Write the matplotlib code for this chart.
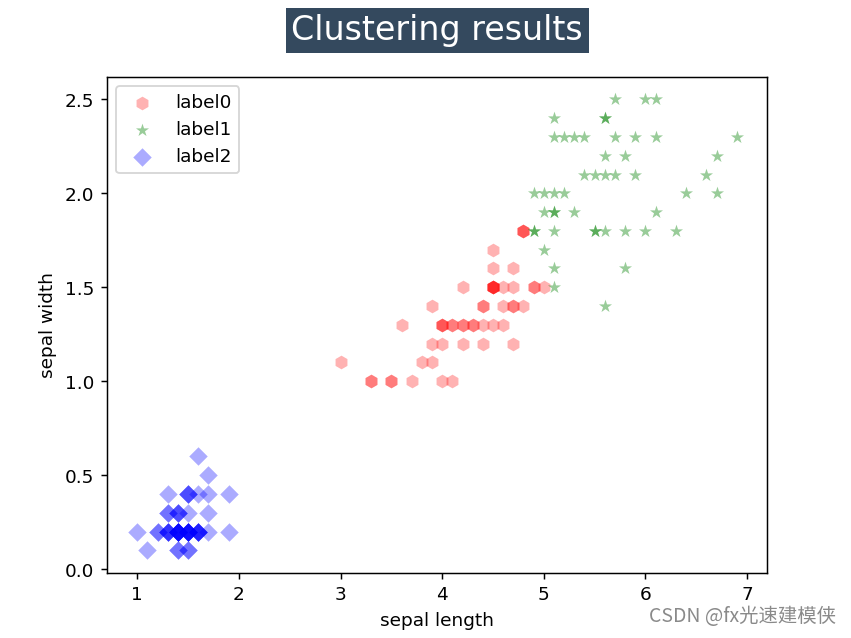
import matplotlib.pyplot as plt
import numpy as np

plt.rcParams['font.family'] = ['DejaVu Sans', 'Noto Sans CJK SC']

# cluster 0 (red hexagons): petal length / width
x0 = [4.7, 4.5, 4.9, 4.0, 4.6, 4.5, 4.7, 3.3, 4.6, 3.9,
      3.5, 4.2, 4.0, 4.7, 3.6, 4.4, 4.5, 4.1, 4.5, 3.9,
      4.8, 4.0, 4.9, 4.7, 4.3, 4.4, 4.8, 4.5, 3.5,
      3.8, 3.7, 3.9, 4.5, 4.5, 4.7, 4.4, 4.1, 4.0,
      4.4, 4.6, 4.0, 3.3, 4.2, 4.2, 4.2, 4.3, 3.0, 4.1,
      4.5, 4.8, 4.8, 5.0]
y0 = [1.4, 1.5, 1.5, 1.3, 1.5, 1.3, 1.6, 1.0, 1.3, 1.4,
      1.0, 1.5, 1.0, 1.4, 1.3, 1.4, 1.5, 1.0, 1.5, 1.1,
      1.8, 1.3, 1.5, 1.2, 1.3, 1.4, 1.4, 1.5, 1.0,
      1.1, 1.0, 1.2, 1.5, 1.6, 1.5, 1.3, 1.3, 1.3,
      1.2, 1.4, 1.2, 1.0, 1.3, 1.2, 1.3, 1.3, 1.1, 1.3,
      1.7, 1.8, 1.8, 1.5]

# cluster 1 (green stars)
x1 = [6.0, 5.1, 5.9, 5.6, 5.8, 6.6, 6.3, 5.8, 6.1,
      5.1, 5.3, 5.5, 5.0, 5.1, 5.3, 5.5, 6.7, 6.9,
      5.7, 4.9, 6.7, 4.9, 5.7, 6.0, 4.9, 5.6, 5.8,
      6.1, 6.4, 5.6, 5.1, 5.6, 6.1, 5.6, 5.5, 5.4,
      5.6, 5.1, 5.1, 5.9, 5.7, 5.2, 5.0, 5.2, 5.4, 5.1,
      5.0, 5.1]
y1 = [2.5, 1.9, 2.1, 1.8, 2.2, 2.1, 1.8, 1.8, 2.5,
      2.0, 1.9, 2.1, 2.0, 2.4, 2.3, 1.8, 2.2, 2.3,
      2.3, 2.0, 2.0, 1.8, 2.1, 1.8, 1.8, 2.1, 1.6,
      1.9, 2.0, 2.2, 1.5, 1.4, 2.3, 2.4, 1.8, 2.1,
      2.4, 2.3, 1.9, 2.3, 2.5, 2.3, 1.9, 2.0, 2.3, 1.8,
      1.7, 1.6]

# cluster 2 (blue diamonds)
x2 = [1.4, 1.4, 1.3, 1.5, 1.4, 1.7, 1.4, 1.5, 1.4, 1.5,
      1.5, 1.6, 1.4, 1.1, 1.2, 1.5, 1.3, 1.4, 1.7, 1.5,
      1.7, 1.5, 1.0, 1.7, 1.9, 1.6, 1.6, 1.5, 1.4, 1.6,
      1.6, 1.5, 1.5, 1.4, 1.5, 1.2, 1.3, 1.4, 1.3, 1.5,
      1.3, 1.3, 1.3, 1.6, 1.9, 1.4, 1.6, 1.4, 1.5, 1.4]
y2 = [0.2, 0.2, 0.2, 0.2, 0.2, 0.4, 0.3, 0.2, 0.2, 0.1,
      0.2, 0.2, 0.1, 0.1, 0.2, 0.4, 0.4, 0.3, 0.3, 0.3,
      0.2, 0.4, 0.2, 0.5, 0.2, 0.2, 0.4, 0.2, 0.2, 0.2,
      0.2, 0.4, 0.1, 0.2, 0.2, 0.2, 0.2, 0.1, 0.2, 0.2,
      0.3, 0.3, 0.2, 0.6, 0.4, 0.3, 0.2, 0.2, 0.2, 0.2]

fig = plt.figure(figsize=(6.4, 4.8), dpi=133)
ax = fig.add_subplot(111)
fig.subplots_adjust(left=0.126, right=0.901, top=0.879, bottom=0.102)

ax.scatter(x0, y0, c='r', marker='h', s=55, linewidths=0, alpha=0.3, label='label0')
ax.scatter(x1, y1, c='g', marker='*', s=55, linewidths=0, alpha=0.4, label='label1')
ax.scatter(x2, y2, c='b', marker='D', s=50, linewidths=0, alpha=0.33, label='label2')

ax.set_xlabel('sepal length')
ax.set_ylabel('sepal width')
ax.set_title('Clustering results', fontsize=18, color='white', pad=20,
             bbox=dict(facecolor='#34495e', edgecolor='none', pad=3))
ax.legend(loc='upper left')

fig.text(0.982, 0.018, 'CSDN @fx光速建模侠', ha='right', va='bottom',
         fontsize=10.5, color='#8a8a8a',
         family=['Noto Sans CJK SC', 'DejaVu Sans'])

fig.savefig('out.png', dpi=133)
